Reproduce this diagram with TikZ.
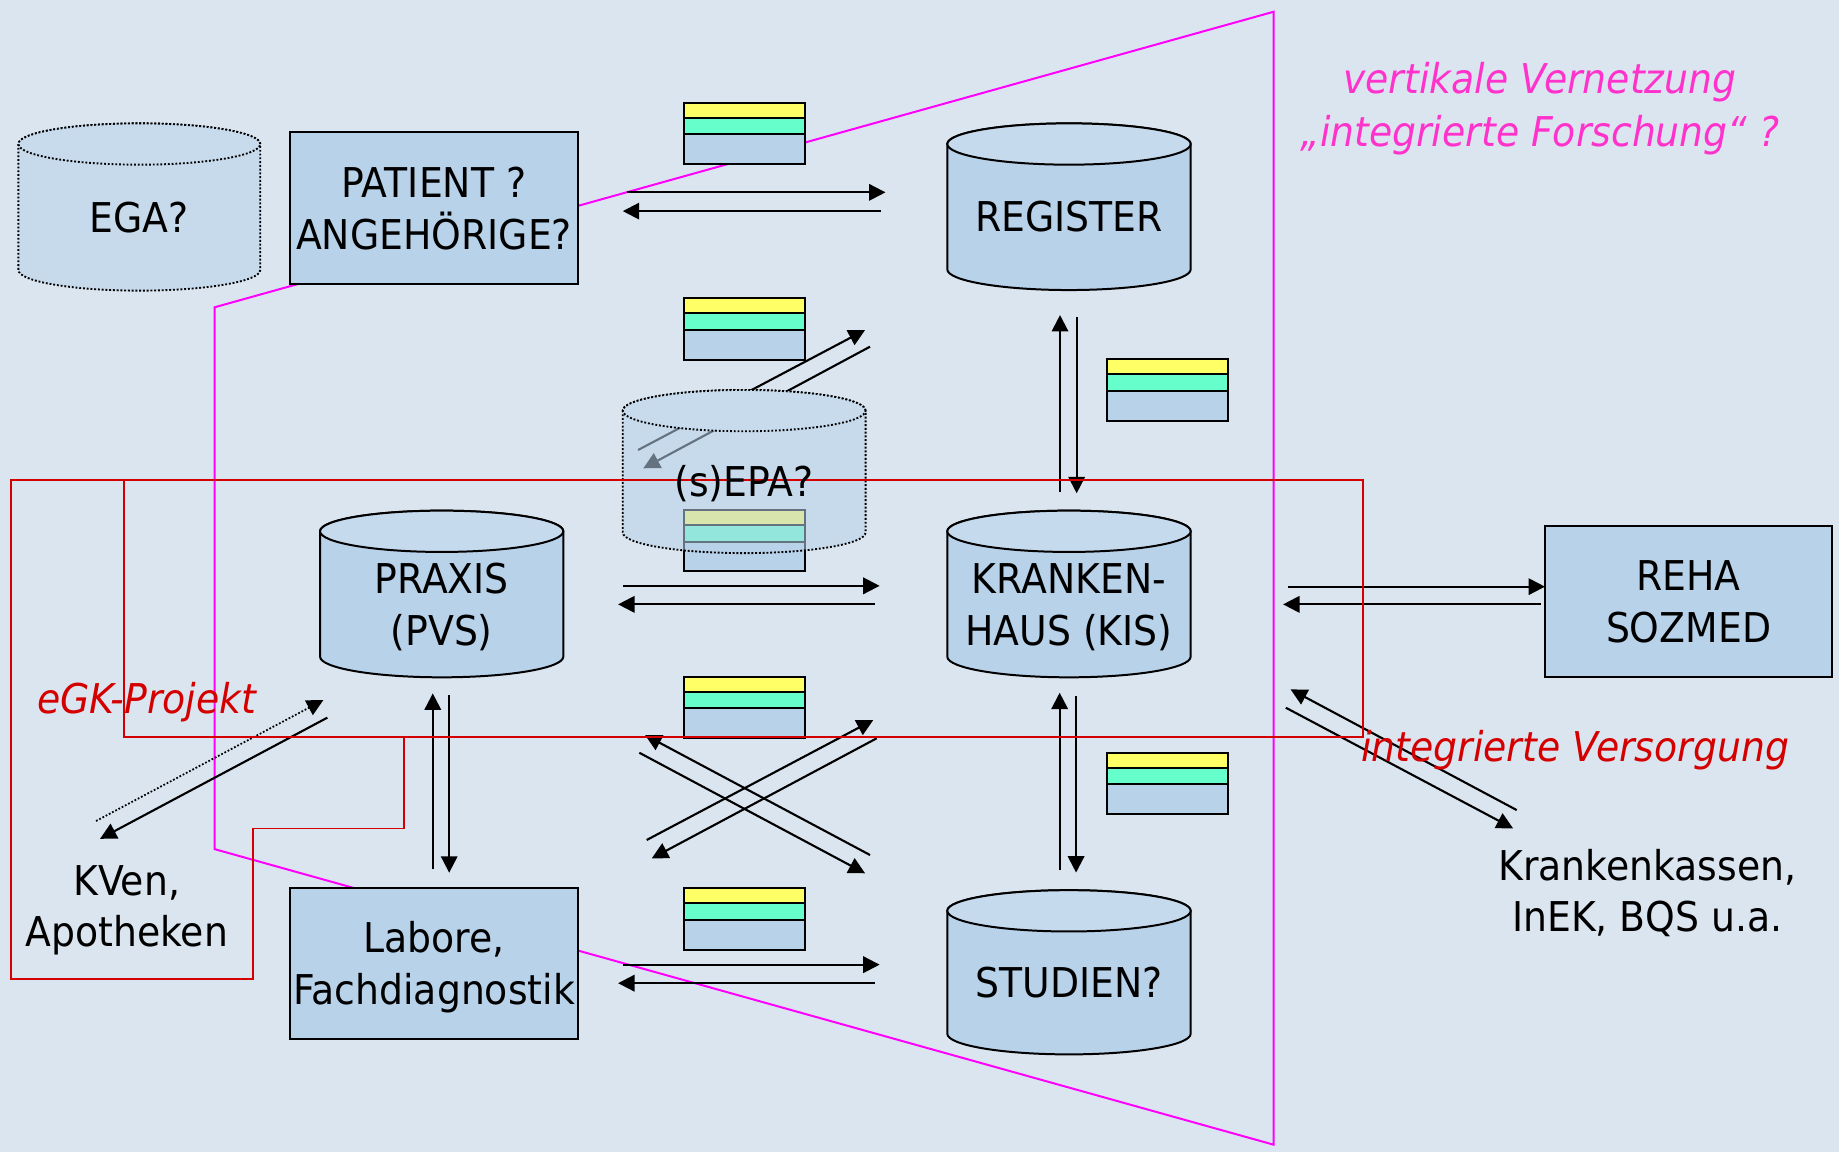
\documentclass[tikz,border=0pt]{standalone}
\usepackage{fontspec}
\setmainfont{DejaVu Sans}[FakeStretch=0.92]
\usetikzlibrary{arrows.meta}

\definecolor{bgc}{RGB}{219,229,240}
\definecolor{boxfill}{RGB}{184,210,234}
\definecolor{topfill}{RGB}{198,218,238}
\definecolor{barY}{RGB}{255,255,102}
\definecolor{barG}{RGB}{102,255,204}
\definecolor{redline}{RGB}{212,0,0}
\definecolor{magline}{RGB}{255,0,255}
\definecolor{magtext}{RGB}{255,51,204}
\colorlet{ghostfill}{boxfill!55!bgc}

\tikzset{
  arr/.style={line width=1.8pt, -{Triangle[length=14pt,width=14pt]}},
  dotarr/.style={arr, line width=1.5pt, dash pattern=on 1.5pt off 1.6pt},
  boxn/.style={draw, line width=1.7pt, fill=boxfill},
  cylbody/.style={draw, line width=1.7pt, fill=boxfill},
  cyltop/.style={draw, line width=1.7pt, fill=topfill},
  ghostbody/.style={draw, line width=1.6pt, dash pattern=on 1.6pt off 1.6pt, fill=boxfill, fill opacity=0.55},
  ghosttop/.style={draw, line width=1.6pt, dash pattern=on 1.6pt off 1.6pt, fill=ghostfill},
  barline/.style={draw, line width=1.7pt},
  redframe/.style={draw=redline, line width=1.5pt},
  magframe/.style={draw=magline, line width=1.7pt},
  lbl/.style={font=\fontsize{35}{44}\selectfont, inner sep=0pt, align=center,
              text height=25.5pt, text depth=0pt},
  lbltwo/.style={lbl, text height=69.5pt},
  rednote/.style={lbl, font=\fontsize{35}{44}\selectfont\itshape, text=redline},
  magnote/.style={lbl, font=\fontsize{35}{45}\selectfont\itshape, text=magtext, text height=70.5pt},
}

% cylinder: name of centre coordinate, left, right, top, bottom, body style, top style
\newcommand\dbcyl[7]{%
  \pgfmathsetmacro\cylcx{(#2+#3)/2}%
  \pgfmathsetmacro\cylrx{(#3-#2)/2}%
  \pgfmathsetmacro\cylya{#4+17.6}%
  \pgfmathsetmacro\cylyb{#5-17.6}%
  \path[#6] (#2,\cylya) -- (#2,\cylyb)
    arc[start angle=180,end angle=360,x radius=\cylrx pt,y radius=17.6pt]
    -- (#3,\cylya)
    arc[start angle=0,end angle=180,x radius=\cylrx pt,y radius=17.6pt] -- cycle;
  \path[#7] (\cylcx,\cylya) ellipse[x radius=\cylrx pt,y radius=17.6pt];
  \pgfmathsetmacro\cylmid{(\cylya+#5)/2}%
  \coordinate (#1) at (\cylcx,\cylmid);
}

% data record: yellow / green / blue strips; name, left, top
\newcommand\databar[3]{%
  \path[barline, fill=barY] (#2,#3) rectangle ++(103.6,12.8);
  \path[barline, fill=barG] (#2,#3+12.8) rectangle ++(103.6,14.2);
  \path[barline, fill=boxfill] (#2,#3+27) rectangle ++(103.6,25.3);
  \coordinate (#1) at (#2+51.8,#3+26.2);
}

\begin{document}
\begin{tikzpicture}[x=1pt,y=-1pt]
\fill[bgc] (0,0) rectangle (1568,982);
\useasboundingbox (0,0) rectangle (1568,982);

% vertical network frame
\path[magframe] (183,262) -- (1086,10) -- (1086,976) -- (183,724) -- cycle;

% data records
\databar{rec1}{583}{87.5}
\databar{rec2}{583}{254.4}
\databar{rec3}{943.6}{306.4}
\databar{rec4}{583}{434.9}
\databar{rec5}{583}{577}
\databar{rec6}{943.6}{641.8}
\databar{rec7}{583}{757.5}

% connector end points
\coordinate (a1s) at (535,164);    \coordinate (a1e) at (755,164);
\coordinate (a2s) at (751,180);    \coordinate (a2e) at (531,180);
\coordinate (e1s) at (544,383.7);  \coordinate (e1e) at (737.6,281.4);
\coordinate (e2s) at (741.8,295.6);\coordinate (e2e) at (548.5,399.3);
\coordinate (v1s) at (903.8,419.2);\coordinate (v1e) at (903.8,268.6);
\coordinate (v2s) at (918,270.6);  \coordinate (v2e) at (918,420.6);
\coordinate (h1s) at (531,499.5);  \coordinate (h1e) at (750,499.5);
\coordinate (h2s) at (746,515.3);  \coordinate (h2e) at (527,515.3);
\coordinate (h3s) at (1098.2,500.2);\coordinate (h3e) at (1317.3,500.2);
\coordinate (h4s) at (1313.9,515.3);\coordinate (h4e) at (1094,515.3);
\coordinate (v3s) at (369,741.3);  \coordinate (v3e) at (369,591.2);
\coordinate (v4s) at (383,592.6);  \coordinate (v4e) at (383,744.1);
\coordinate (v5s) at (903.5,742);  \coordinate (v5e) at (903.5,590.6);
\coordinate (v6s) at (917.5,593.2);\coordinate (v6e) at (917.5,744);
\coordinate (h5s) at (531,822.5);  \coordinate (h5e) at (750,822.5);
\coordinate (h6s) at (746,838.3);  \coordinate (h6e) at (527,838.3);
\coordinate (xas) at (551.4,716.2);\coordinate (xae) at (744.6,613.9);
\coordinate (xbs) at (747.5,629.5);\coordinate (xbe) at (555.7,731.9);
\coordinate (xcs) at (741.8,729);  \coordinate (xce) at (550,626.7);
\coordinate (xds) at (545.1,641.8);\coordinate (xde) at (737.6,744.6);
\coordinate (k1s) at (81.9,700);   \coordinate (k1e) at (275.7,596.9);
\coordinate (k2s) at (279.1,611.9);\coordinate (k2e) at (85.3,715.2);
\coordinate (c1s) at (1293.2,690.7);\coordinate (c1e) at (1100.4,587.8);
\coordinate (c2s) at (1096.3,603.4);\coordinate (c2e) at (1290.1,706.3);

% connectors
\draw[arr] (a1s) -- (a1e);  \draw[arr] (a2s) -- (a2e);
\draw[arr] (e1s) -- (e1e);  \draw[arr] (e2s) -- (e2e);
\draw[arr] (v1s) -- (v1e);  \draw[arr] (v2s) -- (v2e);
\draw[arr] (h1s) -- (h1e);  \draw[arr] (h2s) -- (h2e);
\draw[arr] (h3s) -- (h3e);  \draw[arr] (h4s) -- (h4e);
\draw[arr] (v3s) -- (v3e);  \draw[arr] (v4s) -- (v4e);
\draw[arr] (v5s) -- (v5e);  \draw[arr] (v6s) -- (v6e);
\draw[arr] (h5s) -- (h5e);  \draw[arr] (h6s) -- (h6e);
\draw[arr] (xas) -- (xae);  \draw[arr] (xbs) -- (xbe);
\draw[arr] (xcs) -- (xce);  \draw[arr] (xds) -- (xde);
\draw[dotarr] (k1s) -- (k1e); \draw[arr] (k2s) -- (k2e);
\draw[arr] (c1s) -- (c1e);  \draw[arr] (c2s) -- (c2e);

% systems
\dbcyl{egac}{15.7}{221.9}{105.2}{247.8}{ghostbody}{ghosttop}
\dbcyl{regc}{807.7}{1015.2}{105.2}{247.3}{cylbody}{cyltop}
\dbcyl{pvsc}{272.9}{480.3}{435.4}{577.5}{cylbody}{cyltop}
\dbcyl{kisc}{807.7}{1015.2}{435.4}{577.5}{cylbody}{cyltop}
\dbcyl{studc}{807.7}{1015.2}{759}{899}{cylbody}{cyltop}

\node[boxn, lbltwo, minimum width=245.3pt, minimum height=129.6pt] (patient) at (370,177.6) {PATIENT ?\\ANGEHÖRIGE?};
\node[boxn, lbltwo, minimum width=244.7pt, minimum height=129.3pt] (reha) at (1439.7,512.9) {REHA\\SOZMED};
\node[boxn, lbltwo, minimum width=245.7pt, minimum height=128.5pt] (labor) at (370.1,821.8) {Labore,\hspace{8pt}\\Fachdiagnostik};

% shared record, partly see-through
\dbcyl{epac}{531}{738}{332.5}{471.6}{ghostbody}{ghosttop}

% care and eGK boundaries
\path[redframe] (106,409.5) rectangle (1162,628.7);
\path[redframe] (164,409.5) -- (9.4,409.5) -- (9.4,834.5) -- (216,834.5) -- (216,706.4) -- (344.5,706.4) -- (344.5,628.7);

% labels
\node[lbl] (ega) at (egac) {EGA?};
\node[lbl] (register) at (regc) {REGISTER};
\node[lbltwo] (praxis) at (pvsc) {PRAXIS\hspace{11pt}\\(PVS)};
\node[lbltwo] (kis) at (kisc) {KRANKEN-\\HAUS (KIS)};
\node[lbl] (studien) at (studc) {STUDIEN?};
\node[lbl] (epa) at (epac) {(s)EPA?};
\node[lbltwo] (kven) at (108,772.6) {KVen,\\Apotheken};
\node[lbltwo] (kassen) at (1404.5,759.6) {Krankenkassen,\\InEK, BQS u.a.};
\node[rednote] (egk) at (125,595.2) {eGK-Projekt};
\node[rednote] (iv) at (1343,636.7) {integrierte Versorgung};
\node[magnote] (vv) at (1313,89.3) {vertikale Vernetzung\\„integrierte Forschung“ ?};
\end{tikzpicture}
\end{document}
